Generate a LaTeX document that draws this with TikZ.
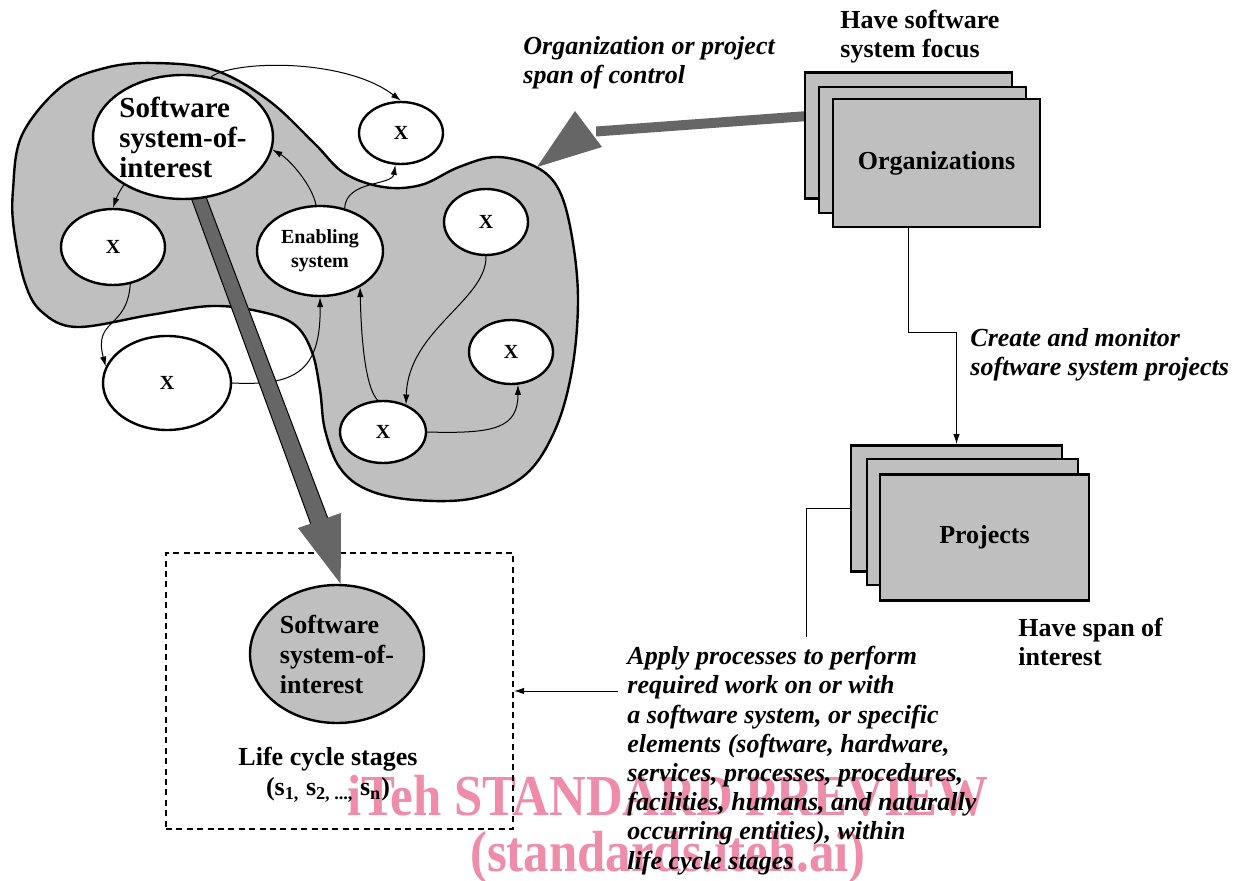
\documentclass[tikz,border=0pt]{standalone}
\usepackage{fontspec}
\setmainfont{Liberation Serif}
\usetikzlibrary{arrows.meta}
\usetikzlibrary{shapes.geometric}
\usetikzlibrary{backgrounds}

\definecolor{panel}{RGB}{191,191,191}
\definecolor{barfill}{RGB}{102,102,102}
\definecolor{stamp}{RGB}{238,140,170}

\tikzset{%
  oval/.style={ellipse,draw,line width=1.2pt,fill=white,inner sep=0pt,align=center,font=\fontsize{10}{12}\selectfont\bfseries},%
  card/.style={rectangle,draw,line width=1.4pt,fill=panel,inner sep=0pt,minimum width=103.5pt,minimum height=63pt},%
  conn/.style={line width=0.5pt,-{Latex[length=5pt,width=3.2pt]}},%
  txt/.style={inner sep=0pt,align=left,font=\fontsize{13}{14.6}\selectfont\bfseries},%
  note/.style={txt,font=\fontsize{13}{14.6}\selectfont\bfseries\itshape},%
  stampfont/.style={text=stamp,inner sep=0pt,xscale=0.877,font=\fontsize{29}{30}\selectfont\bfseries}%
}

\begin{document}
\begin{tikzpicture}[x=0.5pt,y=-0.5pt]%
    \useasboundingbox (0,0) rectangle (1246,881);%
    \begin{pgfonlayer}{background}%
        \node[stampfont,anchor=base] (stamp1) at (668,815) {iTeh STANDARD PREVIEW};%
        \node[stampfont,anchor=base] (stamp2) at (668,871) {(standards.iteh.ai)};%
        \draw[line width=1.2pt,fill=panel] plot[smooth cycle,tension=0.6] coordinates {%
            (153,63) (214,70) (268,100) (314,143) (344,173) (383,187) (421,185)
            (459,167) (497,157) (536,167) (559,190) (572,237) (578,300) (572,370)
            (555,430) (525,475) (475,498) (415,500) (368,490) (340,468) (325,430)
            (320,390) (312,352) (295,325) (262,312) (212,306) (150,315) (77,327)
            (42,312) (25,283) (14,230) (13,190) (22,135) (61,87) (105,68)};%
    \end{pgfonlayer}%
    \fill[barfill] (808,111) -- (808,121) -- (596,136.5) -- (596,126.5) -- cycle;%
    \fill[barfill] (575,111) -- (602,147) -- (537,167) -- cycle;%
    \node[card] (orgBack) at (908.5,135.5) {};%
    \node[card] (orgMid) at (922.5,150) {};%
    \node[card,minimum height=64pt,font=\fontsize{13}{15}\selectfont\bfseries] (orgFront) at (936.5,163) {Organizations};%
    \node[card,minimum width=105.5pt] (projBack) at (956.5,508.5) {};%
    \node[card,minimum width=105.5pt] (projMid) at (972.5,522) {};%
    \node[card,minimum width=104.5pt,font=\fontsize{13}{15}\selectfont\bfseries] (projFront) at (984.5,537.5) {Projects};%
    \node[draw,line width=1pt,dash pattern=on 3pt off 2.2pt,minimum width=173.5pt,minimum height=138pt] (lcBox) at (339.5,691) {};%
    \node[oval,fill=panel,minimum width=87pt,minimum height=69pt,align=left,font=\fontsize{13}{15}\selectfont\bfseries] (lcSys) at (337,654) {Software\\system-of-\\interest};%
    \filldraw[fill=barfill,line width=0.5pt] (189,192) -- (203,189) -- (330,524) -- (313,530) -- cycle;%
    \fill[barfill] (298,528) -- (341,513) -- (lcSys.87) -- cycle;%
    \node[oval,minimum width=88pt,minimum height=62pt,align=left,font=\fontsize{14.5}{15}\selectfont\bfseries] (soi) at (183,137) {Software\\system-of-\\interest};%
    \node[oval,minimum width=42pt,minimum height=31pt] (xTop) at (401,133) {X};%
    \node[oval,minimum width=52pt,minimum height=38pt] (xLeft) at (113,247) {X};%
    \node[oval,minimum width=63pt,minimum height=45pt,font=\fontsize{10}{12}\selectfont\bfseries] (enab) at (320,251) {Enabling\\system};%
    \node[oval,minimum width=42pt,minimum height=33pt] (xRight) at (486,222) {X};%
    \node[oval,minimum width=64pt,minimum height=47pt] (xLow) at (167,383) {X};%
    \node[oval,minimum width=42pt,minimum height=32pt] (xFar) at (511,352) {X};%
    \node[oval,minimum width=43pt,minimum height=31pt] (xMid) at (383,432) {X};%
    \begin{pgfonlayer}{background}%
        \draw[conn] (soi.65) .. controls (235,60) and (345,58) .. (xTop.north);%
        \draw[conn] (soi.219) .. controls (117,195) and (115,202) .. (xLeft.north);%
        \draw[conn] (xLeft.295) .. controls (127,330) and (93,318) .. (xLow.165);%
        \draw[conn] (xLow.east) .. controls (295,386) and (321,372) .. (enab.south);%
        \draw[conn] (enab.95) .. controls (312,185) and (290,160) .. (soi.352);%
        \draw[conn] (enab.60) .. controls (346,180) and (392,186) .. (xTop.260);%
        \draw[conn] (xMid.100) .. controls (364,385) and (361,330) .. (enab.318);%
        \draw[conn] (xRight.south) .. controls (487,300) and (408,330) .. (xMid.50);%
        \draw[conn] (xMid.east) .. controls (495,434) and (518,428) .. (xFar.282);%
    \end{pgfonlayer}%
    \coordinate (orgTap) at (908,227);%
    \coordinate (applyTop) at (806,637);%
    \coordinate (applyTip) at (618,691);%
    \draw[conn] (orgTap) -- (908,333) -| (projBack.north);%
    \draw[line width=0.5pt] (projBack.west) -| (applyTop);%
    \draw[conn] (applyTip) -- (lcBox.east);%
    \node[txt,anchor=north west] (focusTxt) at (840,10) {Have software\\system focus};%
    \node[note,anchor=north west] (spanTxt) at (523,36) {Organization or project\\span of control};%
    \node[note,anchor=north west] (createTxt) at (970,328) {Create and monitor\\software system projects};%
    \node[txt,anchor=north west] (interestTxt) at (1018,618) {Have span of\\interest};%
    \node[txt,align=center,anchor=north,font=\fontsize{13}{15}\selectfont\bfseries] (lifeTxt) at (328,747) {Life cycle stages\\(s\textsubscript{1,} s\textsubscript{2, ...,} s\textsubscript{n})};%
    \node[note,anchor=north west] (applyTxt) at (627,646) {Apply processes to perform\\required work on or with\\a software system, or specific\\elements (software, hardware,\\services, processes, procedures,\\facilities, humans, and naturally\\occurring entities), within\\life cycle stages};%
\end{tikzpicture}
\end{document}
